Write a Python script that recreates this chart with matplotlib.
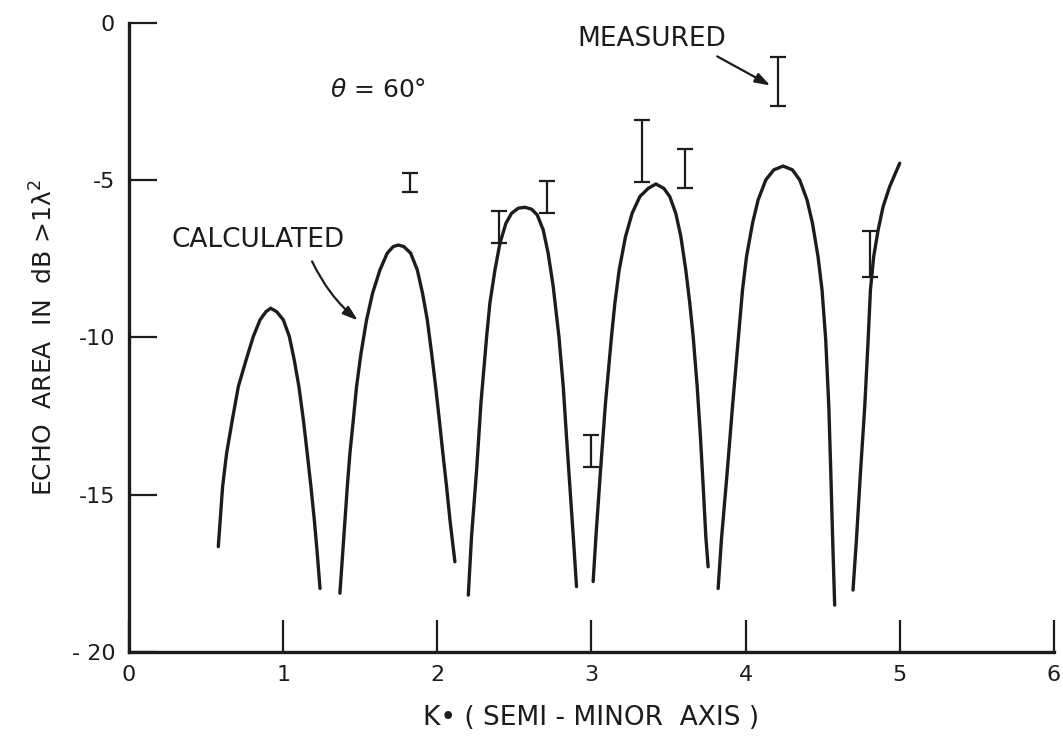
"""Echo area vs K*(semi-minor axis), theta = 60 deg: calculated lobes + measured bars."""

import matplotlib
matplotlib.use("Agg")
import matplotlib.pyplot as plt
import numpy as np

INK = "#1c1c1c"

# calculated curve, one list pair per lobe
LOBE1_X = [0.579, 0.607, 0.633, 0.670, 0.709, 0.759, 0.806, 0.850, 0.888, 0.919, 0.958,
           1.001, 1.040, 1.072, 1.102, 1.131, 1.156, 1.180, 1.202, 1.221, 1.239]
LOBE1_Y = [-16.65, -14.74, -13.68, -12.62, -11.56, -10.72, -9.97, -9.44, -9.18, -9.07, -9.18,
           -9.44, -9.97, -10.72, -11.56, -12.62, -13.68, -14.74, -15.80, -16.86, -17.98]
LOBE2_X = [1.368, 1.386, 1.401, 1.416, 1.433, 1.455, 1.476, 1.505, 1.541, 1.580, 1.628, 1.675, 1.714,
           1.747, 1.783, 1.827, 1.870, 1.904, 1.935, 1.963, 1.989, 2.013, 2.036, 2.060, 2.082, 2.114]
LOBE2_Y = [-18.13, -16.86, -15.80, -14.74, -13.68, -12.62, -11.56, -10.50, -9.44, -8.59, -7.85, -7.32, -7.11,
           -7.06, -7.11, -7.32, -7.85, -8.59, -9.44, -10.50, -11.56, -12.62, -13.68, -14.74, -15.80, -17.13]
LOBE3_X = [2.201, 2.222, 2.255, 2.283, 2.320, 2.341, 2.374, 2.406, 2.445, 2.482, 2.525, 2.568,
           2.611, 2.648, 2.687, 2.719, 2.752, 2.789, 2.817, 2.838, 2.860, 2.882, 2.903]
LOBE3_Y = [-18.19, -16.33, -14.21, -12.09, -9.97, -8.91, -7.85, -7.01, -6.37, -6.05, -5.89, -5.86,
           -5.92, -6.10, -6.58, -7.32, -8.38, -9.97, -11.56, -13.15, -14.74, -16.33, -17.92]
LOBE4_X = [3.011, 3.029, 3.059, 3.091, 3.130, 3.152, 3.180, 3.221, 3.264, 3.314, 3.368, 3.418,
           3.470, 3.508, 3.547, 3.580, 3.612, 3.638, 3.660, 3.686, 3.707, 3.725, 3.742, 3.757]
LOBE4_Y = [-17.76, -16.33, -14.21, -12.09, -9.97, -8.91, -7.85, -6.79, -6.05, -5.52, -5.26, -5.12,
           -5.26, -5.52, -6.05, -6.79, -7.85, -8.91, -9.97, -11.56, -13.15, -14.74, -16.33, -17.29]
LOBE5_X = [3.822, 3.843, 3.880, 3.915, 3.952, 3.980, 4.006, 4.045, 4.081, 4.131, 4.183, 4.243,
           4.304, 4.351, 4.399, 4.434, 4.470, 4.496, 4.520, 4.540, 4.553, 4.565, 4.578]
LOBE5_Y = [-17.98, -16.44, -14.32, -12.20, -10.08, -8.49, -7.43, -6.37, -5.63, -4.99, -4.67, -4.55,
           -4.67, -4.99, -5.63, -6.37, -7.43, -8.49, -10.08, -12.20, -14.32, -16.44, -18.51]
LOBE6_X = [4.697, 4.719, 4.745, 4.773, 4.795, 4.810, 4.831, 4.860, 4.892, 4.935, 5.000]
LOBE6_Y = [-18.03, -16.44, -14.32, -12.20, -10.08, -8.49, -7.43, -6.58, -5.84, -5.20, -4.46]

# measured ranges
MEAS_X = [1.82, 2.40, 2.71, 3.00, 3.33, 3.61, 4.21, 4.805]
MEAS_LO = [-5.37, -6.98, -6.03, -14.11, -5.05, -5.25, -2.64, -8.09]
MEAS_HI = [-4.77, -5.97, -5.01, -13.10, -3.10, -4.00, -1.09, -6.60]

X_TICKS = [0, 1, 2, 3, 4, 5, 6]
X_LABELS = ["0", "1", "2", "3", "4", "5", "6"]
Y_TICKS = [-20, -15, -10, -5, 0]
Y_LABELS = ["- 20", "-15", "-10", "-5", "0"]

plt.rcParams["font.family"] = ["DejaVu Sans"]

fig = plt.figure(figsize=(10.63, 7.36), dpi=100)
ax = fig.add_axes([0.1214, 0.1141, 0.87, 0.8547])

lobes = [(LOBE1_X, LOBE1_Y), (LOBE2_X, LOBE2_Y), (LOBE3_X, LOBE3_Y),
         (LOBE4_X, LOBE4_Y), (LOBE5_X, LOBE5_Y), (LOBE6_X, LOBE6_Y)]
for lx, ly in lobes:
    ax.plot(lx, ly, color=INK, linewidth=2.4, solid_capstyle="round",
            solid_joinstyle="round")

lo = np.array(MEAS_LO)
hi = np.array(MEAS_HI)
ax.errorbar(MEAS_X, (lo + hi) / 2, yerr=(hi - lo) / 2, fmt="none",
            ecolor=INK, elinewidth=1.6, capsize=5.5, capthick=1.6)

ax.set_xlim(0, 6)
ax.set_ylim(-20, 0)
for side in ("top", "right"):
    ax.spines[side].set_visible(False)
for side in ("left", "bottom"):
    ax.spines[side].set_linewidth(2.4)
    ax.spines[side].set_color(INK)

ax.set_xticks(X_TICKS)
ax.set_xticklabels(X_LABELS, fontsize=16)
ax.set_yticks(Y_TICKS)
ax.set_yticklabels(Y_LABELS, fontsize=16)
ax.tick_params(axis="x", direction="in", length=23, width=1.6, pad=9, colors=INK)
ax.tick_params(axis="y", direction="in", length=20, width=1.6, pad=10, colors=INK)

ax.set_xlabel("K\u2022 ( SEMI - MINOR  AXIS )", fontsize=19, labelpad=15, color=INK)
ax.set_ylabel("ECHO  AREA  IN  dB >1\u03bb$^{2}$", fontsize=18, labelpad=10, color=INK)

ax.text(1.615, -2.13, "$\\theta$ = 60\u00b0", fontsize=18, ha="center", va="center",
        color=INK)
ax.text(3.392, -0.51, "MEASURED", fontsize=19, ha="center", va="center", color=INK)
ax.text(0.837, -6.90, "CALCULATED", fontsize=19, ha="center", va="center", color=INK)

ax.annotate("", xy=(4.176, -2.03), xytext=(3.80, -1.02),
            arrowprops=dict(arrowstyle="-|>,head_length=0.9,head_width=0.3",
                            color=INK, lw=1.6))
ax.annotate("", xy=(1.498, -9.51), xytext=(1.18, -7.50),
            arrowprops=dict(arrowstyle="-|>,head_length=0.9,head_width=0.3",
                            color=INK, lw=1.6, connectionstyle="arc3,rad=0.12"))

fig.savefig("out.png", dpi=100, facecolor="white")
